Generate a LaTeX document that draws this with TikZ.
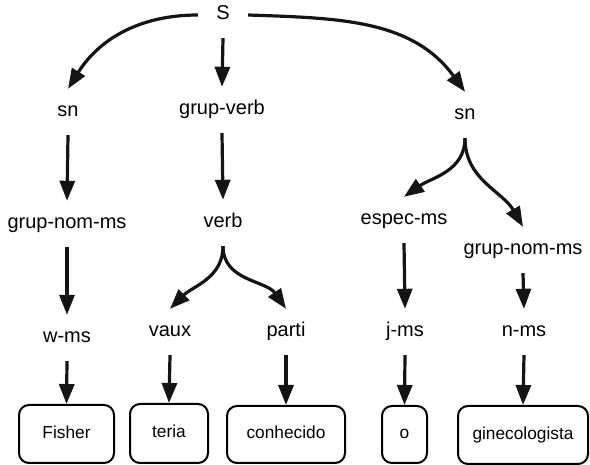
\documentclass[tikz,border=0pt]{standalone}
\usepackage{fontspec}
\setmainfont{Liberation Sans}
\usetikzlibrary{arrows.meta}
\tikzset{
  lbl/.style={font=\fontsize{20}{24}\selectfont, inner sep=0pt, minimum height=46pt, text height=14pt, text depth=4pt},
  root/.style={lbl, minimum width=50pt},
  leaf/.style={draw, line width=2pt, rounded corners=10pt, inner sep=0pt, font=\fontsize{17.3}{20}\selectfont, text height=12.5pt, text depth=3.5pt},
  arr/.style={line width=3.2pt, -{Triangle[length=20pt,width=15pt]}, color=black!92}
}
\begin{document}
\begin{tikzpicture}[x=1pt,y=-1pt]
\useasboundingbox (0,0) rectangle (590,465);
% labels
\node[root] (S) at (223,15) {S};
\node[lbl] (sn1) at (68,112) {sn};
\node[lbl] (gv) at (222,110) {grup-verb};
\node[lbl] (sn2) at (465,115) {sn};
\node[lbl] (gnm1) at (67,224) {grup-nom-ms};
\node[lbl] (verb) at (223,223) {verb};
\node[lbl] (espec) at (404,220) {espec-ms};
\node[lbl] (gnm2) at (523,250) {grup-nom-ms};
\node[lbl] (wms) at (67,338) {w-ms};
\node[lbl] (vaux) at (170,332) {vaux};
\node[lbl] (parti) at (286,332) {parti};
\node[lbl] (jms) at (405,332) {j-ms};
\node[lbl] (nms) at (524,332) {n-ms};
% leaves
\node[leaf, minimum width=95pt, minimum height=58pt] (fisher) at (66.5,434) {Fisher};
\node[leaf, minimum width=78pt, minimum height=59pt] (teria) at (169,433.5) {teria};
\node[leaf, minimum width=118pt, minimum height=57pt] (conh) at (286,434.5) {conhecido};
\node[leaf, minimum width=45pt, minimum height=57pt] (o) at (404.5,434.5) {o};
\node[leaf, minimum width=130pt, minimum height=58pt] (gine) at (523,435) {ginecologista};
% connectors
\draw[arr] (S.west) to[out=180,in=58] (sn1.north);
\draw[arr] (S.south) -- (gv.north);
\draw[arr] (S.east) to[out=-2,in=126] (sn2.north);
\draw[arr] (sn1.south) -- (gnm1.north);
\draw[arr] (gv.south) -- (verb.north);
\draw[arr] (sn2.south) to[out=-90,in=35] (espec.north);
\draw[arr] (sn2.south) to[out=-90,in=120] (gnm2.north);
\draw[arr] (gnm1.south) -- (wms.north);
\draw[arr] (verb.south) to[out=-90,in=45] (vaux.north);
\draw[arr] (verb.south) to[out=-90,in=125] (parti.north);
\draw[arr] (espec.south) -- (jms.north);
\draw[arr] (gnm2.south) -- (nms.north);
\draw[arr] (wms.south) -- (fisher.north);
\draw[arr] (vaux.south) -- (teria.north);
\draw[arr] (parti.south) -- (conh.north);
\draw[arr] (jms.south) -- (o.north);
\draw[arr] (nms.south) -- (gine.north);
\end{tikzpicture}
\end{document}
